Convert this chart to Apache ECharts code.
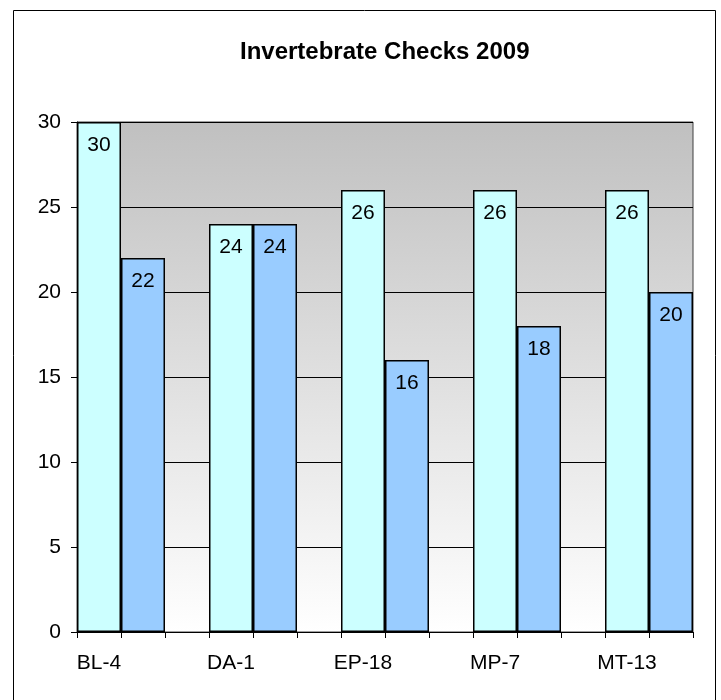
<!DOCTYPE html>
<html>
<head>
<meta charset="utf-8">
<script src="https://cdn.jsdelivr.net/npm/echarts@6/dist/echarts.min.js"></script>
<style>
  html, body { margin: 0; padding: 0; background: #fff; }
  #chart { width: 721px; height: 700px; }
</style>
</head>
<body>
<div id="chart"></div>
<script>
// 站点名称
var categories = ['BL-4', 'DA-1', 'EP-18', 'MP-7', 'MT-13'];
// 两组柱子的值
var firstValues = [30, 24, 26, 26, 26];
var secondValues = [22, 24, 16, 18, 20];
var yTicks = [0, 5, 10, 15, 20, 25, 30];

// Excel 的横轴: 每个站点占三格 (浅青, 浅蓝, 空), 最后一个站点没有空格
var slots = [];
var dataA = [];
var dataB = [];
for (var i = 0; i < categories.length; i++) {
        slots.push(categories[i], '');
        dataA.push(firstValues[i], '-');
        dataB.push('-', secondValues[i]);
        if (i < categories.length - 1) {
                slots.push('');
                dataA.push('-');
                dataB.push('-');
        }
}

var font = 'Liberation Sans, Arial, sans-serif';

var chart = echarts.init(document.getElementById('chart'));

var option = {
        animation: false,
        title: {
                text: 'Invertebrate Checks 2009',
                left: 235,
                top: 35,
                textStyle: { fontFamily: font, fontSize: 24, fontWeight: 'bold', color: '#000' }
        },
        graphic: [{
                type: 'rect',
                shape: { x: 13.5, y: 10.5, width: 702, height: 720 },
                style: { fill: null, stroke: '#000', lineWidth: 1 },
                silent: true
        }],
        grid: {
                left: 77, right: 28, top: 122, bottom: 68,
                show: true,
                borderColor: '#404040',
                borderWidth: 1,
                backgroundColor: new echarts.graphic.LinearGradient(0, 0, 0, 1, [
                        { offset: 0, color: '#c0c0c0' },
                        { offset: 1, color: '#ffffff' }
                ])
        },
        xAxis: {
                type: 'category',
                data: slots,
                boundaryGap: true,
                axisLine: { lineStyle: { color: '#000', width: 1 } },
                axisTick: { show: true, interval: 0, alignWithLabel: false, length: 6, lineStyle: { color: '#000', width: 1 } },
                axisLabel: { interval: 0, margin: 21, fontFamily: font, fontSize: 21, color: '#000' },
                splitLine: { show: false }
        },
        yAxis: {
                type: 'value',
                min: yTicks[0],
                max: yTicks[yTicks.length - 1],
                interval: 5,
                axisLine: { show: true, lineStyle: { color: '#000', width: 1 } },
                axisTick: { show: true, length: 6, lineStyle: { color: '#000' } },
                axisLabel: { margin: 16, fontFamily: font, fontSize: 21, color: '#000' },
                splitLine: { lineStyle: { color: '#000', width: 1 } }
        },
        series: [
                {
                        type: 'bar',
                        data: dataA,
                        barWidth: '100%',
                        barGap: '-100%',
                        itemStyle: { color: '#ccffff', borderColor: '#000', borderWidth: 1.5 },
                        label: {
                                show: true, position: 'insideTop', distance: 13,
                                fontFamily: font, fontSize: 21, color: '#000'
                        }
                },
                {
                        type: 'bar',
                        data: dataB,
                        barWidth: '100%',
                        barGap: '-100%',
                        itemStyle: { color: '#99ccff', borderColor: '#000', borderWidth: 1.5 },
                        label: {
                                show: true, position: 'insideTop', distance: 13,
                                fontFamily: font, fontSize: 21, color: '#000'
                        }
                }
        ]
};

chart.setOption(option);
</script>
</body>
</html>
